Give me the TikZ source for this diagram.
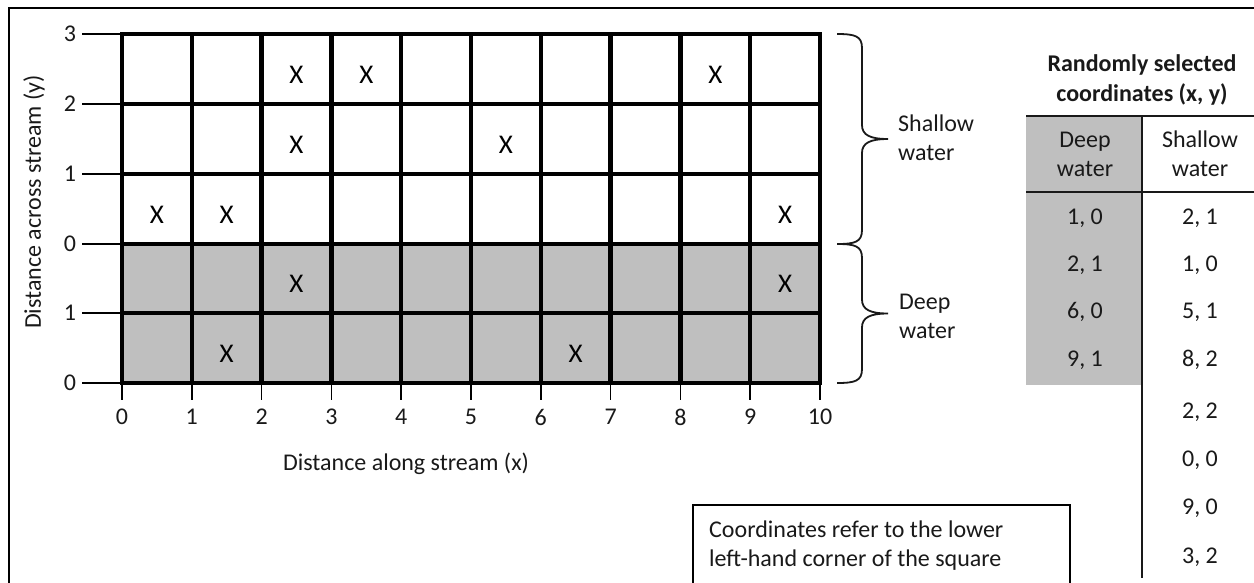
\documentclass[tikz,border=0pt]{standalone}
\usepackage{fontspec}
\setmainfont{Carlito}
\definecolor{deepgray}{RGB}{191,191,191}
\definecolor{ink}{RGB}{25,25,25}
\newcommand\wbrace[3]{% x, top, bottom
  \pgfmathsetmacro\bm{(#2+#3)/2}
  \draw[bracestyle] (#1,#2) .. controls ({#1+18},#2) and ({#1+25},{#2+2}) .. ({#1+25},{#2+14})
    -- ({#1+25},{\bm-14}) .. controls ({#1+25},{\bm-4}) and ({#1+33},\bm) .. ({#1+51},\bm)
    .. controls ({#1+33},\bm) and ({#1+25},{\bm+4}) .. ({#1+25},{\bm+14})
    -- ({#1+25},{#3-14}) .. controls ({#1+25},{#3-2}) and ({#1+18},#3) .. (#1,#3);}
\begin{document}
\begin{tikzpicture}[x=1pt,y=-1pt,
  txt/.style={font=\fontsize{24}{29}\selectfont, text=ink, inner sep=0pt},
  btxt/.style={font=\fontsize{24}{30}\bfseries\selectfont, text=ink, inner sep=0pt, align=center},
  xmark/.style={font=\fontsize{27}{30}\selectfont, inner sep=0pt},
  gridline/.style={line width=4.5pt},
  tick/.style={line width=1.5pt},
  bracestyle/.style={line width=1.8pt, ink},
  tabline/.style={line width=1.3pt, ink}]
\useasboundingbox (0,0) rectangle (1254,582);
% outer frame (top and left only visible)
\draw[line width=2pt] (9,600) -- (9,8) -- (1260,8);
% deep water fill
\fill[deepgray] (122,244) rectangle (820,383);
% grid
\foreach \i in {0,...,10} {
  \pgfmathsetmacro\xx{122+69.8*\i}
  \draw[gridline] (\xx,34) -- (\xx,383);
  \draw[tick] (\xx,383) -- (\xx,400);
  \node[txt] (bx\i) at (\xx,417) {\i};
}
\foreach \y/\lab [count=\k] in {34/3,104/2,174/1,244/0,313/1,383/0} {
  \draw[gridline] (120,\y) -- (822,\y);
  \draw[tick] (82,\y) -- (122,\y);
  \node[txt] (ly\k) at (70,\y) {\lab};
}
% axis labels
\node[txt, rotate=90] (ylab) at (34,202) {Distance across stream (y)};
\node[txt] (xlab) at (406,464) {Distance along stream (x)};
% X marks: (col, row-from-top)
\foreach \c/\r [count=\k] in {2/0,3/0,8/0,2/1,5/1,0/2,1/2,9/2,2/3,9/3,1/4,6/4} {
  \node[xmark] (m\k) at ({122+69.8*(\c+0.5)},{34+69.8*(\r+0.5)+6}) {X};
}
% braces
\wbrace{837}{34}{244}
\wbrace{837}{244}{383}
\node[txt, anchor=west, align=left] (shallowlab) at (898,138) {Shallow\\water};
\node[txt, anchor=west, align=left] (deeplab) at (899,316) {Deep\\water};
% table
\node[btxt] (title) at (1142,80) {Randomly selected\\coordinates (x, y)};
\fill[deepgray] (1026,116) rectangle (1142,385);
\draw[tabline] (1026,116) -- (1260,116);
\draw[tabline] (1026,192) -- (1260,192);
\draw[tabline] (1142,116) -- (1142,578);
\node[txt, align=center] (hdeep) at (1085,154) {Deep\\water};
\node[txt, align=center] (hshallow) at (1200,154) {Shallow\\water};
\foreach \v/\y [count=\k] in {{1, 0}/218,{2, 1}/265,{6, 0}/312,{9, 1}/360} {
  \node[txt] (d\k) at (1085,\y) {\v};
}
\foreach \v/\y [count=\k] in {{2, 1}/218,{1, 0}/265,{5, 1}/312,{8, 2}/360,{2, 2}/412,{0, 0}/460,{9, 0}/508,{3, 2}/557} {
  \node[txt] (s\k) at (1200,\y) {\v};
}
% note box
\draw[line width=1.5pt] (693,600) -- (693,505) -- (1070,505) -- (1070,600);
\node[txt, anchor=west, align=left] (note) at (709,546) {Coordinates refer to the lower\\left-hand corner of the square};
\end{tikzpicture}
\end{document}
